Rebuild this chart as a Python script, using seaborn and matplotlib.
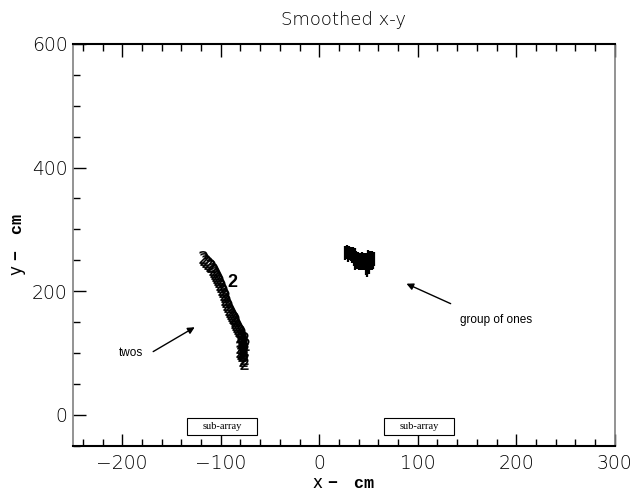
import numpy as np
import pandas as pd
import matplotlib
matplotlib.use("Agg")
import matplotlib.pyplot as plt
import matplotlib.patches as mpatches
import seaborn as sns

# positions of the "2" hits (x, y in cm)
twos_x = [-118, -117, -115, -113, -111, -110, -108, -107, -106, -105,
          -104, -103, -102, -101, -100, -99, -98, -97, -96, -96,
          -95, -94, -93, -92, -91, -90, -89, -88, -87, -86,
          -85, -84, -83, -82, -81, -80, -79, -79, -78, -78,
          -77, -77, -78, -77, -78, -77, -78, -77, -78, -76,
          -80, -79, -80, -80, -79, -76, -75, -76, -77, -76]
twos_y = [256, 252, 249, 246, 243, 240, 236, 233, 230, 226,
          223, 220, 216, 212, 208, 204, 200, 196, 192, 188,
          184, 180, 176, 172, 168, 165, 162, 159, 156, 153,
          150, 147, 144, 141, 138, 135, 132, 129, 126, 123,
          120, 117, 114, 111, 108, 105, 102, 99, 96, 92,
          128, 118, 110, 104, 100, 125, 115, 106, 88, 84]

# positions of the "1" hits
ones_x = [26, 28, 30, 32, 34, 36, 29, 33,
          35, 37, 39, 41, 43, 45, 47, 49, 51, 53,
          36, 38, 40, 42, 44, 46, 48, 50, 52, 54,
          50, 52, 54, 56, 55, 47, 49, 51, 48]
ones_y = [262, 263, 262, 261, 260, 259, 258, 257,
          252, 253, 252, 251, 252, 251, 250, 251, 252, 253,
          246, 247, 246, 245, 246, 245, 244, 245, 246, 245,
          255, 254, 253, 252, 247, 238, 237, 239, 234]

# sub-array boxes: left edge, bottom, width, height (cm)
subarray_x0 = [-134, 66]
subarray_y0 = -33
subarray_w = 71
subarray_h = 28

sns.set_style("white")
plt.rcParams["font.family"] = ["DejaVu Sans"]
plt.rcParams["text.color"] = "black"
plt.rcParams["axes.labelcolor"] = "black"
plt.rcParams["mathtext.fontset"] = "custom"
plt.rcParams["mathtext.bf"] = "Liberation Mono:bold"

fig, ax = plt.subplots(figsize=(6.34, 4.93), dpi=100)
fig.subplots_adjust(left=0.1151, right=0.9696, bottom=0.0959, top=0.9108)

df_twos = pd.DataFrame({"x": twos_x, "y": twos_y})
df_ones = pd.DataFrame({"x": ones_x, "y": ones_y})

sns.scatterplot(ax=ax, data=df_twos, x="x", y="y", marker="$2$", s=85,
                color="black", linewidth=0.1, edgecolor="black")
sns.scatterplot(ax=ax, data=df_ones, x="x", y="y", marker="|", s=90,
                color="black", linewidth=1.6)

ax.text(-88, 214, "2", fontsize=13, fontweight="bold", ha="center", va="center",
        family="Liberation Sans")

ax.annotate("", xy=(-124, 144), xytext=(-171, 100),
            arrowprops=dict(arrowstyle="-|>", color="black", lw=1, mutation_scale=10))
ax.text(-203, 100, "twos", fontsize=8.5, family="Liberation Sans", va="center")
ax.annotate("", xy=(86, 214), xytext=(136, 178),
            arrowprops=dict(arrowstyle="-|>", color="black", lw=1, mutation_scale=10))
ax.text(143, 153, "group of ones", fontsize=8.5, family="Liberation Sans", va="center")

for x0 in subarray_x0:
    ax.add_patch(mpatches.Rectangle((x0, subarray_y0), subarray_w, subarray_h,
                                    fc="white", ec="black", lw=0.8, zorder=3))
    ax.text(x0 + subarray_w / 2, subarray_y0 + subarray_h / 2, "sub-array",
            fontsize=7.5, family="Liberation Serif", ha="center", va="center",
            zorder=4)

ax.set_xlim(-250, 300)
ax.set_ylim(-50, 600)
ax.set_xticks([-200, -100, 0, 100, 200, 300])
ax.set_yticks([0, 200, 400, 600])
ax.xaxis.set_minor_locator(matplotlib.ticker.MultipleLocator(20))
ax.yaxis.set_minor_locator(matplotlib.ticker.MultipleLocator(50))
ax.tick_params(axis="x", which="both", direction="in", top=True, bottom=True,
               labelsize=13.5, pad=6, colors="black")
ax.tick_params(axis="y", which="both", direction="in", left=True, right=False,
               labelsize=13.5, pad=4, colors="black")
ax.tick_params(which="major", length=9, width=1)
ax.tick_params(which="minor", length=5, width=1)
for lab in ax.get_xticklabels() + ax.get_yticklabels():
    lab.set_fontweight("light")

for side in ["top", "bottom"]:
    ax.spines[side].set_color("black")
    ax.spines[side].set_linewidth(1.5)
for side in ["left", "right"]:
    ax.spines[side].set_color("#808080")
    ax.spines[side].set_linewidth(1.2)

ax.set_xlabel(r"x $\mathbf{-\ \ \ cm}$", fontsize=12, labelpad=1)
ax.set_ylabel(r"y $\mathbf{-\ \ \ cm}$", fontsize=12, labelpad=3)
ax.set_title("Smoothed x-y", fontsize=13, fontweight="light", pad=14)

fig.savefig("out.png", dpi=100)
